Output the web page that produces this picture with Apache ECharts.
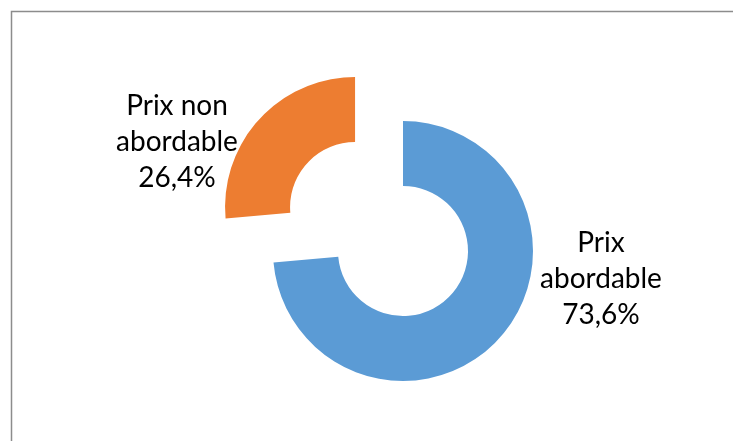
<!DOCTYPE html>
<html>
  <head>
    <meta charset="utf-8" />
    <script src="https://cdn.jsdelivr.net/npm/echarts@6/dist/echarts.min.js"></script>
    <title></title>
    <style type="text/css">
      html, body { margin: 0; padding: 0; background: #fff; }
      #demo { width: 733px; height: 441px; }
    </style>
  </head>
  <body>
    <div id="demo"></div>
    <script type="text/javascript">
      var categories = ['Prix\nabordable', 'Prix non\nabordable']
      var values = [73.6, 26.4]
      var valueLabels = ['73,6%', '26,4%']
      var colors = ['#5B9BD5', '#ED7D31']
      var exploded = [false, true]
      // label centres
      var labelPos = [[601, 279], [177, 142]]

      var cx = 403, cy = 251, explode = 65
      var total = values[0] + values[1]

      // one series per slice, the other slice kept invisible so angles stay right
      var series = []
      var acc = 0
      for (var i = 0; i < values.length; i++) {
        var mid = (90 - 360 * (acc + values[i] / 2) / total) * Math.PI / 180
        acc += values[i]
        var off = exploded[i] ? explode : 0
        var data = []
        for (var j = 0; j < values.length; j++) {
          if (j === i) {
            data.push({
              name: categories[j],
              value: values[j],
              itemStyle: { color: colors[j] },
              label: { show: true, formatter: categories[j] + '\n' + valueLabels[j] }
            })
          } else {
            data.push({
              name: categories[j],
              value: values[j],
              itemStyle: { color: 'rgba(0,0,0,0)' },
              label: { show: false }
            })
          }
        }
        series.push({
          type: 'pie',
          center: [cx + off * Math.cos(mid), cy - off * Math.sin(mid)],
          radius: [65, 130],
          startAngle: 90,
          clockwise: true,
          avoidLabelOverlap: false,
          silent: true,
          itemStyle: { borderWidth: 0 },
          label: {
            position: 'outside',
            color: '#000',
            fontFamily: 'Lato',
            fontSize: 28,
            lineHeight: 36,
            align: 'center'
          },
          labelLine: { show: false },
          labelLayout: function (params) {
            var p = labelPos[params.dataIndex]
            return { x: p[0], y: p[1], align: 'center', verticalAlign: 'middle' }
          },
          emphasis: { disabled: true },
          data: data
        })
      }

      var chart = echarts.init(document.getElementById('demo'))
      chart.setOption({
        animation: false,
        graphic: [
          {
            type: 'rect',
            shape: { x: 11.5, y: 11.5, width: 760, height: 460 },
            style: { fill: 'none', stroke: '#8c8c8c', lineWidth: 1.5 },
            silent: true
          }
        ],
        series: series
      })
    </script>
  </body>
</html>
